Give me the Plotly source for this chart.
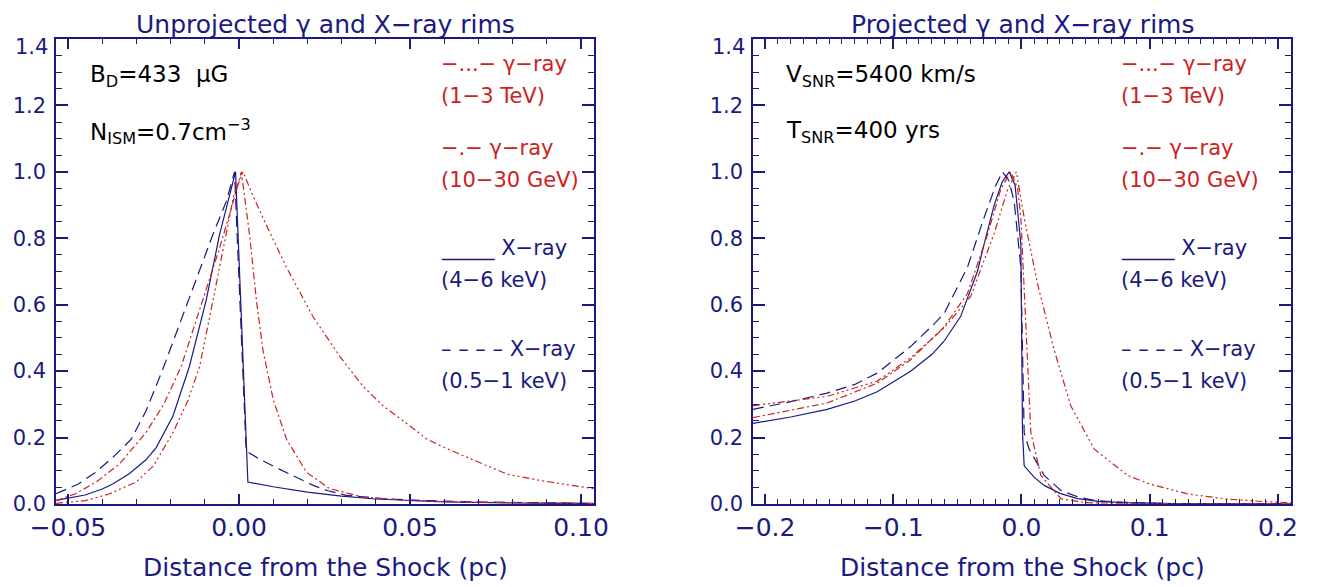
import plotly.graph_objects as go

NAVY = "#1a1a80"
RED = "#cc2222"
FONT = "DejaVu Sans"

# ---------------- Left panel: unprojected ----------------
left_xhard_x = [-0.0535, -0.0450, -0.0400, -0.0369, -0.0320, -0.0272, -0.0242, -0.0193, -0.0145,
                -0.0096, -0.0057, -0.0030, -0.0010, 0.0026, 0.0100, 0.0200, 0.0300, 0.0400,
                0.0500, 0.0600, 0.0800, 0.1038]
left_xhard_y = [0.011, 0.027, 0.045, 0.060, 0.092, 0.133, 0.170, 0.265, 0.414,
                0.613, 0.810, 0.920, 1.000, 0.066, 0.052, 0.036, 0.024, 0.015,
                0.010, 0.006, 0.003, 0.001]

left_xsoft_x = [-0.0535, -0.0470, -0.0420, -0.0369, -0.0315, -0.0272, -0.0223, -0.0174, -0.0125,
                -0.0076, -0.0037, -0.0013, 0.0021, 0.0060, 0.0118, 0.0170, 0.0217, 0.0260,
                0.0314, 0.0420, 0.0550, 0.0700, 0.0850, 0.1038]
left_xsoft_y = [0.031, 0.060, 0.095, 0.140, 0.195, 0.280, 0.405, 0.540, 0.675,
                0.812, 0.911, 1.000, 0.160, 0.135, 0.105, 0.078, 0.056, 0.040,
                0.026, 0.016, 0.010, 0.006, 0.004, 0.002]

left_gev_x = [-0.0535, -0.0480, -0.0418, -0.0350, -0.0272, -0.0220, -0.0169, -0.0106, -0.0060,
              -0.0025, 0.0007, 0.0031, 0.0051, 0.0070, 0.0100, 0.0139, 0.0197, 0.0265,
              0.0363, 0.0500, 0.0700, 0.1038]
left_gev_y = [0.010, 0.030, 0.066, 0.120, 0.215, 0.300, 0.414, 0.613, 0.760,
              0.880, 1.000, 0.810, 0.613, 0.464, 0.315, 0.195, 0.096, 0.046,
              0.021, 0.010, 0.005, 0.002]

left_tev_x = [-0.0535, -0.0450, -0.0380, -0.0301, -0.0250, -0.0193, -0.0150, -0.0115, -0.0076,
              -0.0040, -0.0015, 0.0012, 0.0040, 0.0070, 0.0139, 0.0217, 0.0295, 0.0363,
              0.0422, 0.0500, 0.0550, 0.0600, 0.0700, 0.0783, 0.0880, 0.1038]
left_tev_y = [0.002, 0.010, 0.030, 0.066, 0.115, 0.215, 0.310, 0.414, 0.613,
              0.800, 0.930, 1.000, 0.930, 0.862, 0.712, 0.563, 0.444, 0.354,
              0.295, 0.235, 0.195, 0.170, 0.125, 0.090, 0.071, 0.046]

# ---------------- Right panel: projected ----------------
right_xhard_x = [-0.2094, -0.1800, -0.1516, -0.1300, -0.1125, -0.0865, -0.0700, -0.0604, -0.0474,
                 -0.0344, -0.0280, -0.0213, -0.0150, -0.0096, -0.0050, -0.0005, 0.0008, 0.0021,
                 0.0100, 0.0177, 0.0300, 0.0438, 0.0600, 0.0800, 0.1200, 0.2102]
right_xhard_y = [0.243, 0.262, 0.285, 0.310, 0.338, 0.400, 0.450, 0.490, 0.565,
                 0.700, 0.800, 0.900, 0.970, 1.000, 0.960, 0.782, 0.215, 0.115,
                 0.080, 0.056, 0.032, 0.016, 0.008, 0.004, 0.001, 0.000]

right_xsoft_x = [-0.2094, -0.1800, -0.1516, -0.1300, -0.1125, -0.0865, -0.0700, -0.0604, -0.0422,
                 -0.0292, -0.0200, -0.0148, -0.0100, -0.0057, -0.0005, 0.0021, 0.0060, 0.0177,
                 0.0307, 0.0450, 0.0568, 0.0800, 0.1200, 0.2102]
right_xsoft_y = [0.285, 0.308, 0.334, 0.360, 0.394, 0.474, 0.535, 0.573, 0.712,
                 0.862, 0.960, 1.000, 0.975, 0.911, 0.712, 0.215, 0.165, 0.086,
                 0.041, 0.020, 0.011, 0.005, 0.001, 0.000]

right_gev_x = [-0.2094, -0.1800, -0.1516, -0.1125, -0.0865, -0.0604, -0.0422, -0.0266, -0.0160,
               -0.0083, -0.0030, -0.0005, 0.0034, 0.0073, 0.0151, 0.0307, 0.0500, 0.1000, 0.2102]
right_gev_y = [0.260, 0.282, 0.304, 0.364, 0.434, 0.533, 0.633, 0.810, 0.950,
               1.000, 0.950, 0.862, 0.513, 0.215, 0.086, 0.016, 0.004, 0.001, 0.000]

right_tev_x = [-0.2094, -0.1800, -0.1516, -0.1125, -0.0865, -0.0604, -0.0396, -0.0213, -0.0110,
               -0.0040, 0.0021, 0.0125, 0.0255, 0.0385, 0.0568, 0.0828, 0.1000, 0.1300,
               0.1600, 0.1900, 0.2102]
right_tev_y = [0.296, 0.310, 0.324, 0.370, 0.440, 0.530, 0.625, 0.815, 0.945,
               1.000, 0.862, 0.663, 0.464, 0.295, 0.165, 0.086, 0.060, 0.030,
               0.015, 0.007, 0.004]

# axis ranges / tick labels
left_xrange = [-0.0535, 0.1038]
right_xrange = [-0.2094, 0.2102]
yrange = [0.0, 1.4]
y_tickvals = [0.0, 0.2, 0.4, 0.6, 0.8, 1.0, 1.2, 1.4]
y_ticktext = ["0.0", "0.2", "0.4", "0.6", "0.8", "1.0", "1.2", ""]
y_top_label = "1.4"   # drawn just inside the top of the frame, as in the original

titles = ["Unprojected \u03b3 and X\u2212ray rims", "Projected \u03b3 and X\u2212ray rims"]
xtitle = "Distance from the Shock (pc)"
legend_lines = [
    ("\u2212...\u2212 \u03b3\u2212ray", RED),
    ("(1\u22123 TeV)", RED),
    ("\u2212.\u2212 \u03b3\u2212ray", RED),
    ("(10\u221230 GeV)", RED),
    ("_____ X\u2212ray", NAVY),
    ("(4\u22126 keV)", NAVY),
    ("\u2013 \u2013 \u2013 \u2013 X\u2212ray", NAVY),
    ("(0.5\u22121 keV)", NAVY),
]
legend_py = [56, 88, 140, 172, 240, 272, 341, 373]
left_notes = ["B<sub>D</sub>=433  \u03bcG", "N<sub>ISM</sub>=0.7cm<sup>\u22123</sup>"]
right_notes = ["V<sub>SNR</sub>=5400 km/s", "T<sub>SNR</sub>=400 yrs"]

# ---------------- figure ----------------
W, H = 1317, 587
def fx(px):
    return px / W
def fy(py):
    return 1 - py / H

fig = go.Figure()

DASH_SOFT = "11px,6px"
DASH_GEV = "7px,3px,2px,3px"
DASH_TEV = "7px,3px,2px,3px,2px,3px,2px,3px"

def add(x, y, xa, ya, color, dash):
    fig.add_trace(go.Scatter(x=x, y=y, xaxis=xa, yaxis=ya, mode="lines",
                             line=dict(color=color, width=1.2, dash=dash),
                             showlegend=False, hoverinfo="skip"))

add(left_xsoft_x, left_xsoft_y, "x", "y", NAVY, DASH_SOFT)
add(left_xhard_x, left_xhard_y, "x", "y", NAVY, "solid")
add(left_gev_x, left_gev_y, "x", "y", RED, DASH_GEV)
add(left_tev_x, left_tev_y, "x", "y", RED, DASH_TEV)

add(right_xsoft_x, right_xsoft_y, "x2", "y2", NAVY, DASH_SOFT)
add(right_xhard_x, right_xhard_y, "x2", "y2", NAVY, "solid")
add(right_gev_x, right_gev_y, "x2", "y2", RED, DASH_GEV)
add(right_tev_x, right_tev_y, "x2", "y2", RED, DASH_TEV)

PLOT_TOP, PLOT_BOT = 31, 496
L0, L1 = 48, 586
R0, R1 = 745, 1283

def xaxis(domain, rng, dtick, fmt, anchor, minor_dtick):
    return dict(domain=domain, range=rng, anchor=anchor, tick0=0, dtick=dtick,
                tickformat=fmt, ticks="inside", ticklen=10, tickwidth=1.6, tickcolor=NAVY,
                showline=True, linecolor=NAVY, linewidth=1.5, mirror="allticks",
                showgrid=False, zeroline=False, ticklabelstandoff=0, automargin=False,
                tickfont=dict(family=FONT, size=25, color=NAVY),
                minor=dict(dtick=minor_dtick, tick0=0, ticks="inside", ticklen=5,
                           tickwidth=1.3, tickcolor=NAVY, showgrid=False))

def yaxis(anchor):
    return dict(domain=[fy(PLOT_BOT), fy(PLOT_TOP)], range=yrange, anchor=anchor,
                tickmode="array", tickvals=y_tickvals, ticktext=y_ticktext,
                ticks="inside", ticklen=12,
                tickwidth=1.6, tickcolor=NAVY, showline=True, linecolor=NAVY, linewidth=1.5,
                mirror="allticks", showgrid=False, zeroline=False, ticklabelstandoff=4,
                automargin=False,
                tickfont=dict(family=FONT, size=21, color=NAVY),
                minor=dict(tickmode="linear", dtick=0.05, tick0=0, ticks="inside", ticklen=6,
                           tickwidth=1.3, tickcolor=NAVY, showgrid=False))

annotations = []
for i, (a, b) in enumerate([(L0, L1), (R0, R1)]):
    cx = (a + b) / 2
    annotations.append(dict(text=titles[i], x=fx(cx), y=fy(16), xref="paper", yref="paper",
                            xanchor="center", yanchor="middle", showarrow=False,
                            font=dict(family=FONT, size=25, color=NAVY)))
    annotations.append(dict(text=xtitle, x=fx(cx), y=fy(559), xref="paper", yref="paper",
                            xanchor="center", yanchor="middle", showarrow=False,
                            font=dict(family=FONT, size=25, color=NAVY)))
    annotations.append(dict(text=y_top_label, x=fx(a - 6), y=fy(PLOT_TOP + 8), xref="paper",
                            yref="paper", xanchor="right", yanchor="middle", showarrow=False,
                            font=dict(family=FONT, size=21, color=NAVY)))

for base_px, notes in [(80, left_notes), (776, right_notes)]:
    for note, py in zip(notes, [68, 124]):
        annotations.append(dict(text=note, x=fx(base_px), y=fy(py), xref="paper", yref="paper",
                                xanchor="left", yanchor="middle", showarrow=False,
                                font=dict(family=FONT, size=23, color="black")))

for base_px in [431, 1111]:
    for (txt, col), py in zip(legend_lines, legend_py):
        annotations.append(dict(text=txt, x=fx(base_px), y=fy(py), xref="paper", yref="paper",
                                xanchor="left", yanchor="middle", showarrow=False,
                                font=dict(family=FONT, size=21, color=col)))

fig.update_layout(
    width=W, height=H,
    margin=dict(l=0, r=0, t=0, b=0, pad=0, autoexpand=False),
    paper_bgcolor="white", plot_bgcolor="white",
    showlegend=False,
    xaxis=xaxis([fx(L0), fx(L1)], left_xrange, 0.05, ".2f", "y", 0.01),
    yaxis=yaxis("x"),
    xaxis2=xaxis([fx(R0), fx(R1)], right_xrange, 0.1, ".1f", "y2", 0.01),
    yaxis2=yaxis("x2"),
    annotations=annotations,
)

fig.write_html("out.html")
